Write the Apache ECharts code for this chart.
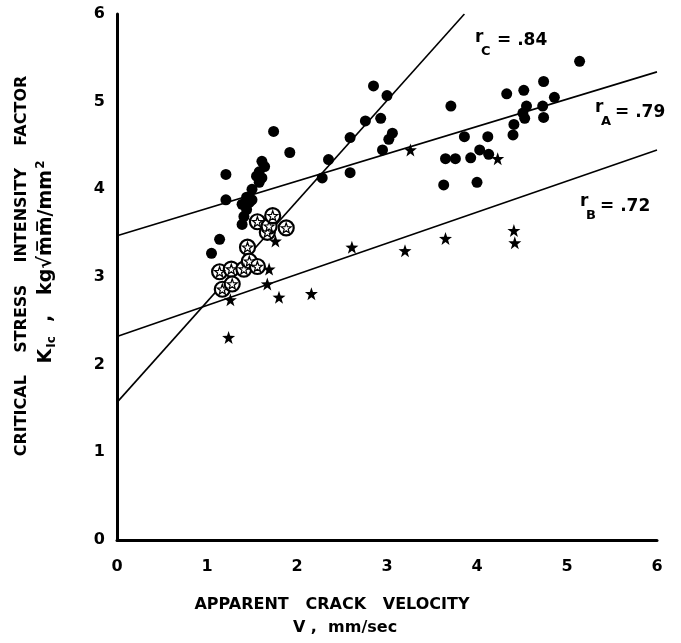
<!DOCTYPE html>
<html>
<head>
<meta charset="utf-8">
<script src="https://cdn.jsdelivr.net/npm/echarts@6/dist/echarts.min.js"></script>
<style>
  html, body { margin: 0; padding: 0; background: #fff; }
  #chart { width: 681px; height: 643px; }
</style>
</head>
<body>
<div id="chart"></div>
<script>
// axis ticks
const xTicks = [0, 1, 2, 3, 4, 5, 6];
const yTicks = [0, 1, 2, 3, 4, 5, 6];

// filled circles
const groupA = [
  [1.05, 3.27], [1.14, 3.43], [1.21, 3.88], [1.21, 4.17], [1.39, 3.60], [1.41, 3.69],
  [1.44, 3.77], [1.39, 3.83], [1.47, 3.85], [1.44, 3.91], [1.50, 3.88], [1.50, 4.00],
  [1.55, 4.15], [1.58, 4.08], [1.58, 4.20], [1.61, 4.13], [1.61, 4.32], [1.64, 4.26],
  [1.74, 4.66], [1.92, 4.42],
  [2.28, 4.13], [2.35, 4.34], [2.59, 4.19], [2.59, 4.59], [2.76, 4.78], [2.85, 5.18],
  [2.93, 4.81], [2.95, 4.45], [3.00, 5.07], [3.02, 4.57], [3.06, 4.64],
  [3.63, 4.05], [3.65, 4.35], [3.71, 4.95], [3.76, 4.35], [3.86, 4.60], [3.93, 4.36],
  [4.00, 4.08], [4.03, 4.45], [4.12, 4.60], [4.13, 4.40], [4.33, 5.09], [4.40, 4.62],
  [4.41, 4.74], [4.51, 4.87], [4.52, 5.13], [4.53, 4.81], [4.55, 4.95], [4.73, 4.95],
  [4.74, 5.23], [4.74, 4.82], [4.86, 5.05], [5.14, 5.46]
];

// stars
const groupB = [
  [1.24, 2.31], [1.26, 2.74], [1.67, 2.92], [1.69, 3.09], [1.76, 3.41], [1.80, 2.77],
  [2.16, 2.81], [2.61, 3.34], [3.20, 3.30], [3.26, 4.45], [3.65, 3.44], [4.23, 4.35],
  [4.41, 3.53], [4.42, 3.39]
];

// open circles with star
const groupC = [
  [1.14, 3.06], [1.17, 2.86], [1.27, 3.09], [1.28, 2.92], [1.41, 3.09], [1.45, 3.34],
  [1.47, 3.18], [1.56, 3.12], [1.56, 3.63], [1.67, 3.51], [1.69, 3.58], [1.73, 3.70],
  [1.88, 3.56]
];

// regression lines (end points)
const fitA = [[0, 3.47], [6, 5.34]];
const fitB = [[0, 2.32], [6, 4.45]];
const fitC = [[0, 1.57], [3.86, 6]];

const starPath = 'path://M0,-10 L2.35,-3.24 9.51,-3.09 3.8,1.24 5.88,8.09 0,4 -5.88,8.09 -3.8,1.24 -9.51,-3.09 -2.35,-3.24Z';
const FONT = '"DejaVu Sans", sans-serif';

const chart = echarts.init(document.getElementById('chart'));

const fitLine = (data) => ({
  type: 'line',
  data: data,
  symbol: 'none',
  silent: true,
  lineStyle: { color: '#000', width: 1.6 },
  z: 1
});

const txt = (x, y, text, size) => ({
  type: 'text', x: x, y: y,
  style: { text: text, font: 'bold ' + size + 'px ' + FONT, fill: '#000', textVerticalAlign: 'middle' }
});

const option = {
  backgroundColor: '#fff',
  animation: false,
  grid: { left: 117, right: 24, top: 14, bottom: 103 },
  xAxis: {
    type: 'value',
    min: 0, max: 6, interval: 1,
    axisLine: { show: true, onZero: false, lineStyle: { color: '#000', width: 3 } },
    axisTick: { show: false },
    splitLine: { show: false },
    axisLabel: {
      margin: 19, color: '#000', fontSize: 16, fontWeight: 'bold', fontFamily: FONT,
      formatter: v => xTicks.includes(v) ? String(v) : ''
    }
  },
  yAxis: {
    type: 'value',
    min: 0, max: 6, interval: 1,
    axisLine: { show: true, onZero: false, lineStyle: { color: '#000', width: 3 } },
    axisTick: { show: false },
    splitLine: { show: false },
    axisLabel: {
      margin: 12, color: '#000', fontSize: 16, fontWeight: 'bold', fontFamily: FONT,
      formatter: v => yTicks.includes(v) ? String(v) : ''
    }
  },
  series: [
    fitLine(fitA),
    fitLine(fitB),
    fitLine(fitC),
    {
      type: 'scatter', data: groupA, symbol: 'circle', symbolSize: 11,
      itemStyle: { color: '#000', opacity: 1 }, z: 3
    },
    {
      type: 'scatter', data: groupB, symbol: starPath, symbolSize: 13,
      itemStyle: { color: '#000', opacity: 1 }, z: 3
    },
    {
      type: 'scatter', data: groupC, symbol: 'circle', symbolSize: 15,
      itemStyle: { color: '#fff', borderColor: '#000', borderWidth: 2.2, opacity: 1 }, z: 4
    },
    {
      type: 'scatter', data: groupC, symbol: starPath, symbolSize: 10,
      itemStyle: { color: '#fff', borderColor: '#000', borderWidth: 1.2, opacity: 1 }, z: 5
    }
  ],
  graphic: [
    // y axis title
    {
      type: 'text', x: 22, y: 266, rotation: Math.PI / 2,
      style: {
        text: 'CRITICAL    STRESS    INTENSITY    FACTOR',
        font: 'bold 16px ' + FONT, fill: '#000',
        textAlign: 'center', textVerticalAlign: 'middle'
      }
    },
    {
      type: 'text', x: 46, y: 262, rotation: Math.PI / 2,
      style: {
        text: '{m|K}{s|Ic}{m|  ,   kg√m̅m̅/mm}{p|2}',
        font: 'bold 18px ' + FONT, fill: '#000',
        textAlign: 'center', textVerticalAlign: 'middle',
        rich: {
          m: { fontSize: 19, fontWeight: 'bold', fontFamily: FONT, lineHeight: 26, verticalAlign: 'middle' },
          s: { fontSize: 12, fontWeight: 'bold', fontFamily: FONT, lineHeight: 26, padding: [12, 1, 0, 1] },
          p: { fontSize: 12, fontWeight: 'bold', fontFamily: FONT, lineHeight: 26, padding: [0, 0, 10, 1] }
        }
      }
    },
    // x axis title
    {
      type: 'text', x: 332, y: 605,
      style: {
        text: 'APPARENT   CRACK   VELOCITY',
        font: 'bold 16px ' + FONT, fill: '#000',
        textAlign: 'center', textVerticalAlign: 'middle'
      }
    },
    {
      type: 'text', x: 345, y: 628,
      style: {
        text: 'V ,  mm/sec',
        font: 'bold 16px ' + FONT, fill: '#000',
        textAlign: 'center', textVerticalAlign: 'middle'
      }
    },
    // correlation labels
    txt(475, 38, 'r', 17), txt(481, 52, 'C', 13), txt(497, 41, '= .84', 17),
    txt(595, 108, 'r', 17), txt(601, 122, 'A', 13), txt(615, 113, '= .79', 17),
    txt(580, 202, 'r', 17), txt(586, 216, 'B', 13), txt(600, 207, '= .72', 17)
  ]
};

chart.setOption(option);
</script>
</body>
</html>
